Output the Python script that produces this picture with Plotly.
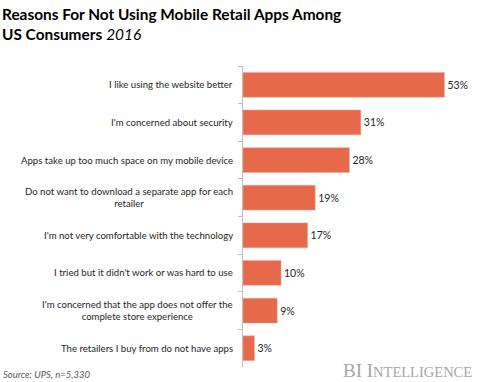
import plotly.graph_objects as go

categories = [
    "I like using the website better",
    "I'm concerned about security",
    "Apps take up too much space on my mobile device",
    "Do not want to download a separate app for each<br>retailer",
    "I'm not very comfortable with the technology",
    "I tried but it didn't work or was hard to use",
    "I'm concerned that the app does not offer the<br>complete store experience",
    "The retailers I buy from do not have apps",
]
values = [53, 31, 28, 19, 17, 10, 9, 3]

BAR = "#E5694A"
TXT = "#262626"
FONT = "Lato"

W, H = 478, 382
ML, MR, MT, MB = 243, 7, 66, 15
PW, PH = W - ML - MR, H - MT - MB

fig = go.Figure(go.Bar(
    x=values, y=categories, orientation="h",
    marker=dict(color=BAR, line=dict(color="#F0A48E", width=0.5)),
    texttemplate="%{x}%", textposition="outside", cliponaxis=False,
    textfont=dict(family=FONT, size=10.5, color=TXT),
    hoverinfo="skip",
))

annotations = []
for c in categories:
    annotations.append(dict(
        x=0, xref="paper", y=c, yref="y", xanchor="right", yanchor="middle",
        xshift=-8, text=c, showarrow=False, align="center",
        font=dict(family=FONT, size=9.6, color=TXT),
    ))
annotations.append(dict(
    x=-ML / PW, xref="paper", y=1 + MT / PH, yref="paper", xanchor="left", yanchor="top",
    xshift=0, yshift=-3, showarrow=False, align="left",
    text="<b>Reasons For Not Using Mobile Retail Apps Among<br>US Consumers</b> <i>2016</i>",
    font=dict(family=FONT, size=15.4, color="#000000"),
))
annotations.append(dict(
    x=-ML / PW, xref="paper", y=-MB / PH, yref="paper", xanchor="left", yanchor="bottom",
    xshift=1, yshift=0, showarrow=False,
    text="<i>Source: UPS, n=5,330</i>",
    font=dict(family=FONT, size=9.5, color="#595959"),
))
annotations.append(dict(
    x=1 + MR / PW, xref="paper", y=-MB / PH, yref="paper", xanchor="right", yanchor="bottom",
    xshift=-4, yshift=-1, showarrow=False,
    text="BI I<span style='font-size:14.5px'>NTELLIGENCE</span>",
    font=dict(family="Liberation Serif", size=19, color="#A6A6A6"),
))

fig.update_layout(
    width=W, height=H,
    margin=dict(l=ML, r=MR, t=MT, b=MB),
    paper_bgcolor="white", plot_bgcolor="white",
    showlegend=False, bargap=0.34,
    annotations=annotations,
    xaxis=dict(range=[0, 60], visible=False),
    yaxis=dict(
        autorange="reversed", showticklabels=False,
        showline=True, linecolor="#BFBFBF", linewidth=1,
        ticks="outside", ticklen=4, tickcolor="#BFBFBF",
        tickson="boundaries", showgrid=False, zeroline=False,
    ),
)

fig.write_html(
    "out.html",
    config={"displayModeBar": False},
    post_script="document.body.style.margin='0';document.body.style.overflow='hidden';",
)
